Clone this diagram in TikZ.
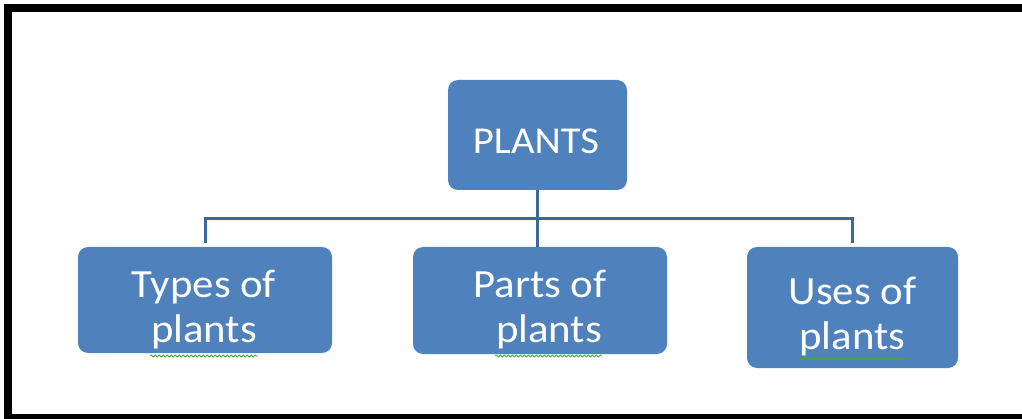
\documentclass[tikz,border=0pt]{standalone}
\usepackage{fontspec}
\setmainfont{Carlito}[FakeStretch=1.07]
\usepackage{tikz}
\usetikzlibrary{positioning,decorations.pathmorphing}
\definecolor{boxblue}{RGB}{79,129,189}
\definecolor{lineblue}{RGB}{60,104,155}
\definecolor{spellgreen}{RGB}{60,170,60}

\begin{document}
\begin{tikzpicture}[x=1pt,y=-1pt]
\tikzset{box/.style = {fill=boxblue,rounded corners=10pt,inner sep=0pt}}
\tikzset{lbl/.style = {text=white,align=center,font=\fontsize{40}{45}\selectfont}}
\tikzset{edge/.style = {draw=lineblue,line width=3pt}}
\tikzset{squig/.style = {spellgreen,line width=0.8pt,decorate,decoration={snake,segment length=4pt,amplitude=1pt}}}
\useasboundingbox (0,0) rectangle (1022,419);
%outside frame, open on the right
\draw[line width=8pt] (1030,8) -- (8,8) -- (8,418) -- (1030,418);
%top box
\node[box,minimum width=179pt,minimum height=110pt] (plants) at (537.5,135) {};
\node[lbl,font=\fontsize{38}{43}\selectfont] (plants-t) at (536,141.5) {PLANTS};
%three boxes below
\node[box,minimum width=254pt,minimum height=106pt] (types) at (205,300) {};
\node[box,minimum width=254pt,minimum height=107pt] (parts) at (540,300.5) {};
\node[box,minimum width=211pt,minimum height=121pt] (uses) at (852.5,307.5) {};
\node[lbl] (types-t) at (204,310) {Types of\\plants};
\node[lbl] (parts-t) at (540,310) {Parts of\\\hspace*{0.45em}plants};
\node[lbl] (uses-t) at (852.5,317) {Uses of\\plants};
%spell check marks
\draw[squig] (150,356) -- (258,356);
\draw[squig] (495,356) -- (602,356);
\draw[squig] (800,359) -- (907,359);
%connectors
\coordinate (bus) at (538,219);
\draw[edge] (plants.south) -- (plants.south |- parts.north);
\draw[edge,shorten <=4pt,shorten >=4pt] (types.north) |- (bus) -| (uses.north);
\end{tikzpicture}
\end{document}
